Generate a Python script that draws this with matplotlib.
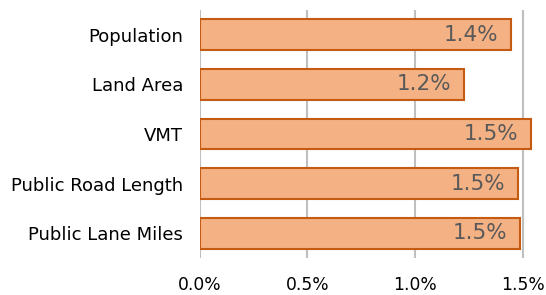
import matplotlib
matplotlib.use("Agg")
import matplotlib.pyplot as plt
from matplotlib.ticker import FuncFormatter

# share of national totals (percent)
categories = ["Population", "Land Area", "VMT", "Public Road Length", "Public Lane Miles"]
values = [1.443, 1.225, 1.535, 1.477, 1.485]
value_labels = ["1.4%", "1.2%", "1.5%", "1.5%", "1.5%"]
x_ticks = [0.0, 0.5, 1.0, 1.5]

fig = plt.figure(figsize=(5.46, 2.95), dpi=100)
ax = fig.add_axes([0.3657, 0.1254, 0.612, 0.8407])

pos = list(range(len(categories)))
bars = ax.barh(pos, values, height=0.62, color="#F4B183", edgecolor="#C55A11",
               linewidth=1.5, zorder=3)

for b, lab in zip(bars, value_labels):
    ax.annotate(lab, xy=(b.get_width(), b.get_y() + b.get_height() / 2),
                xytext=(-9, 0), textcoords="offset points",
                ha="right", va="center", fontsize=15.5, color="#595959", zorder=4)

ax.set_yticks(pos)
ax.set_yticklabels(categories, fontsize=13)
ax.set_ylim(len(categories) - 0.5, -0.5)
ax.set_xlim(0, 1.55)
ax.set_xticks(x_ticks)
ax.xaxis.set_major_formatter(FuncFormatter(lambda v, p: f"{v:.1f}%"))
ax.tick_params(axis="x", labelsize=12.3, length=0, pad=13)
ax.tick_params(axis="y", length=0, pad=12)
ax.grid(axis="x", color="#BFBFBF", linewidth=1.5, zorder=0)
for s in ax.spines.values():
    s.set_visible(False)

fig.savefig("out.png", dpi=100)
